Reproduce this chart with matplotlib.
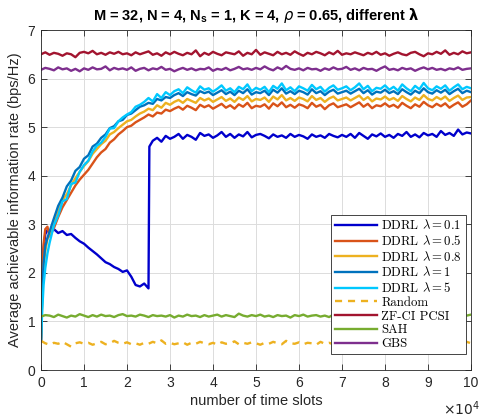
import numpy as np
import matplotlib
matplotlib.use("Agg")
import matplotlib.pyplot as plt
from matplotlib.font_manager import FontProperties

# ---------------- data (x in units of 1e4 time slots) ----------------
x_ddrl = np.concatenate([[0.0, 0.03, 0.06, 0.1, 0.15], np.round(np.arange(2, 101) * 0.1, 2)])
x_flat = np.round(np.arange(0, 101) * 0.1, 2)
x_jump = 2.52  # time at which DDRL lambda=0.1 jumps

ddrl_l5 = [0.62, 1.25, 1.75, 2.1, 2.4,
           2.62, 2.98, 3.18, 3.47, 3.52, 3.83, 3.86, 4.08, 4.22,
           4.31, 4.5, 4.62, 4.68, 4.8, 4.97, 4.98, 5.12, 5.2, 5.26,
           5.31, 5.42, 5.46, 5.52, 5.6, 5.53, 5.68, 5.6, 5.72, 5.66,
           5.74, 5.78, 5.7, 5.82, 5.76, 5.71, 5.84, 5.77, 5.8, 5.73,
           5.79, 5.86, 5.75, 5.8, 5.72, 5.83, 5.78, 5.88, 5.74, 5.81,
           5.77, 5.83, 5.72, 5.85, 5.79, 5.9, 5.76, 5.82, 5.74, 5.84,
           5.8, 5.75, 5.87, 5.78, 5.83, 5.73, 5.81, 5.86, 5.77, 5.8,
           5.84, 5.76, 5.82, 5.9, 5.78, 5.85, 5.74, 5.81, 5.79, 5.86,
           5.77, 5.83, 5.75, 5.88, 5.8, 5.74, 5.85, 5.78, 5.91, 5.8,
           5.76, 5.84, 5.79, 5.86, 5.75, 5.82, 5.88, 5.78, 5.83, 5.8]

ddrl_l1 = [0.6, 1.6, 2.2, 2.55, 2.72,
           2.85, 3.12, 3.38, 3.55, 3.78, 3.9, 4.1, 4.18, 4.35,
           4.42, 4.6, 4.66, 4.78, 4.85, 4.98, 5.02, 5.12, 5.15, 5.25,
           5.28, 5.35, 5.42, 5.45, 5.5, 5.48, 5.58, 5.55, 5.62, 5.6,
           5.66, 5.7, 5.64, 5.72, 5.68, 5.65, 5.74, 5.7, 5.73, 5.66,
           5.71, 5.76, 5.68, 5.73, 5.66, 5.75, 5.7, 5.78, 5.67, 5.72,
           5.7, 5.75, 5.66, 5.77, 5.71, 5.8, 5.69, 5.74, 5.68, 5.75,
           5.72, 5.67, 5.78, 5.7, 5.74, 5.66, 5.73, 5.77, 5.69, 5.72,
           5.75, 5.69, 5.74, 5.79, 5.7, 5.76, 5.67, 5.73, 5.71, 5.77,
           5.7, 5.74, 5.68, 5.78, 5.72, 5.67, 5.75, 5.7, 5.8, 5.72,
           5.69, 5.76, 5.71, 5.77, 5.68, 5.74, 5.79, 5.7, 5.75, 5.72]

ddrl_l08 = [0.6, 1.5, 2.1, 2.45, 2.7,
            2.8, 3.0, 3.25, 3.5, 3.62, 3.8, 3.95, 4.08, 4.2,
            4.3, 4.45, 4.55, 4.65, 4.72, 4.85, 4.9, 4.98, 5.05, 5.12,
            5.15, 5.22, 5.28, 5.32, 5.38, 5.35, 5.45, 5.4, 5.5, 5.46,
            5.52, 5.56, 5.5, 5.58, 5.54, 5.5, 5.6, 5.55, 5.59, 5.52,
            5.57, 5.62, 5.54, 5.59, 5.52, 5.61, 5.56, 5.64, 5.53, 5.58,
            5.56, 5.61, 5.52, 5.63, 5.57, 5.66, 5.55, 5.6, 5.54, 5.61,
            5.58, 5.53, 5.64, 5.56, 5.6, 5.52, 5.59, 5.63, 5.55, 5.58,
            5.61, 5.55, 5.6, 5.65, 5.56, 5.62, 5.53, 5.59, 5.57, 5.63,
            5.56, 5.6, 5.54, 5.64, 5.58, 5.53, 5.61, 5.56, 5.66, 5.58,
            5.55, 5.62, 5.57, 5.63, 5.54, 5.6, 5.65, 5.56, 5.61, 5.62]

ddrl_l05 = [0.6, 1.9, 2.6, 2.9, 2.95,
            2.75, 2.92, 3.15, 3.35, 3.5, 3.65, 3.8, 3.92, 4.02,
            4.12, 4.25, 4.38, 4.48, 4.55, 4.68, 4.75, 4.85, 4.92, 5.0,
            5.03, 5.1, 5.15, 5.2, 5.26, 5.22, 5.3, 5.28, 5.36, 5.33,
            5.38, 5.42, 5.36, 5.44, 5.4, 5.35, 5.46, 5.41, 5.45, 5.38,
            5.43, 5.48, 5.4, 5.45, 5.38, 5.47, 5.42, 5.5, 5.39, 5.44,
            5.42, 5.47, 5.38, 5.49, 5.43, 5.51, 5.41, 5.46, 5.4, 5.47,
            5.44, 5.39, 5.5, 5.42, 5.46, 5.37, 5.45, 5.49, 5.41, 5.44,
            5.47, 5.41, 5.46, 5.51, 5.42, 5.48, 5.39, 5.45, 5.43, 5.49,
            5.42, 5.46, 5.4, 5.5, 5.44, 5.39, 5.47, 5.42, 5.52, 5.45,
            5.41, 5.48, 5.43, 5.49, 5.4, 5.46, 5.51, 5.42, 5.47, 5.55]

# lambda = 0.1: values up to x=2.5, the jump point, then values from x=2.6
ddrl_l01 = [0.6, 1.8, 2.5, 2.8, 2.88,
            2.85, 2.9, 2.82, 2.86, 2.78, 2.8, 2.72, 2.65, 2.6,
            2.52, 2.45, 2.38, 2.3, 2.22, 2.18, 2.12, 2.08, 2.02, 2.05,
            1.92, 1.75, 1.72, 1.78, 1.68,
            4.6,
            4.72, 4.78, 4.7, 4.82, 4.76,
            4.8, 4.86, 4.76, 4.84, 4.8, 4.74, 4.88, 4.82, 4.85, 4.78,
            4.83, 4.9, 4.8, 4.86, 4.78, 4.85, 4.81, 4.9, 4.79, 4.84,
            4.86, 4.82, 4.77, 4.85, 4.8, 4.83, 4.78, 4.86, 4.8, 4.84,
            4.81, 4.76, 4.85, 4.8, 4.83, 4.78, 4.86, 4.82, 4.79, 4.84,
            4.8, 4.86, 4.78, 4.88, 4.82, 4.76, 4.85, 4.81, 4.87, 4.8,
            4.84, 4.78, 4.86, 4.82, 4.9, 4.8, 4.85, 4.79, 4.88, 4.83,
            4.86, 4.8, 4.92, 4.84, 4.88, 4.82, 4.95, 4.85, 4.89, 4.87]

zfci_pcsi = [6.5, 6.54, 6.49, 6.53, 6.51, 6.47, 6.52, 6.5, 6.44, 6.53,
             6.55, 6.52, 6.57, 6.5, 6.53, 6.49, 6.54, 6.51, 6.55, 6.5,
             6.52, 6.48, 6.54, 6.5, 6.53, 6.56, 6.49, 6.52, 6.47, 6.54,
             6.5, 6.55, 6.51, 6.48, 6.53, 6.5, 6.58, 6.46, 6.53, 6.49,
             6.55, 6.51, 6.48, 6.54, 6.52, 6.5, 6.56, 6.47, 6.53, 6.5,
             6.59, 6.49, 6.54, 6.51, 6.48, 6.55, 6.5, 6.53, 6.49, 6.56,
             6.51, 6.47, 6.53, 6.5, 6.55, 6.52, 6.48, 6.54, 6.5, 6.57,
             6.49, 6.52, 6.5, 6.54, 6.51, 6.48, 6.53, 6.5, 6.55, 6.49,
             6.52, 6.47, 6.51, 6.54, 6.5, 6.48, 6.53, 6.55, 6.5, 6.46,
             6.52, 6.5, 6.55, 6.51, 6.58, 6.49, 6.53, 6.5, 6.56, 6.52, 6.54]

gbs = [6.18, 6.22, 6.2, 6.17, 6.23, 6.19, 6.21, 6.16, 6.2, 6.15,
       6.21, 6.18, 6.23, 6.19, 6.2, 6.25, 6.17, 6.22, 6.19, 6.21,
       6.18, 6.23, 6.16, 6.2, 6.22, 6.17, 6.21, 6.19, 6.24, 6.18,
       6.2, 6.15, 6.19, 6.22, 6.18, 6.21, 6.17, 6.2, 6.19, 6.23,
       6.16, 6.2, 6.18, 6.22, 6.17, 6.2, 6.24, 6.19, 6.21, 6.18,
       6.22, 6.19, 6.25, 6.2, 6.17, 6.23, 6.19, 6.26, 6.2, 6.18,
       6.21, 6.17, 6.22, 6.19, 6.2, 6.16, 6.21, 6.18, 6.23, 6.19,
       6.2, 6.24, 6.18, 6.21, 6.17, 6.22, 6.19, 6.2, 6.16, 6.21,
       6.25, 6.18, 6.2, 6.17, 6.22, 6.19, 6.21, 6.16, 6.2, 6.23,
       6.19, 6.22, 6.18, 6.2, 6.17, 6.21, 6.19, 6.23, 6.18, 6.2, 6.21]

sah = [1.1, 1.13, 1.12, 1.09, 1.14, 1.11, 1.08, 1.12, 1.1, 1.15,
       1.12, 1.09, 1.13, 1.1, 1.14, 1.11, 1.12, 1.09, 1.13, 1.15,
       1.11, 1.12, 1.1, 1.14, 1.12, 1.09, 1.13, 1.11, 1.12, 1.1,
       1.13, 1.08, 1.12, 1.1, 1.14, 1.11, 1.12, 1.09, 1.13, 1.1,
       1.12, 1.14, 1.1, 1.13, 1.11, 1.09, 1.16, 1.12, 1.1, 1.13,
       1.11, 1.14, 1.1, 1.12, 1.09, 1.13, 1.11, 1.12, 1.08, 1.13,
       1.11, 1.14, 1.1, 1.12, 1.13, 1.1, 1.12, 1.09, 1.14, 1.11,
       1.12, 1.1, 1.13, 1.11, 1.12, 1.09, 1.13, 1.1, 1.12, 1.14,
       1.11, 1.12, 1.1, 1.13, 1.11, 1.12, 1.09, 1.13, 1.11, 1.12,
       1.1, 1.14, 1.11, 1.12, 1.1, 1.13, 1.11, 1.09, 1.13, 1.12, 1.14]

random_sel = [0.6, 0.55, 0.52, 0.56, 0.54, 0.58, 0.53, 0.48, 0.55, 0.57,
              0.54, 0.56, 0.52, 0.55, 0.58, 0.53, 0.55, 0.6, 0.56, 0.54,
              0.57, 0.53, 0.55, 0.52, 0.56, 0.54, 0.58, 0.55, 0.61, 0.54,
              0.56, 0.53, 0.55, 0.57, 0.52, 0.56, 0.54, 0.58, 0.55, 0.53,
              0.56, 0.52, 0.57, 0.54, 0.55, 0.59, 0.53, 0.56, 0.54, 0.57,
              0.55, 0.52, 0.56, 0.54, 0.58, 0.55, 0.53, 0.6, 0.55, 0.54,
              0.57, 0.53, 0.56, 0.55, 0.52, 0.58, 0.54, 0.56, 0.53, 0.57,
              0.55, 0.54, 0.58, 0.52, 0.56, 0.55, 0.53, 0.57, 0.54, 0.56,
              0.55, 0.53, 0.57, 0.54, 0.56, 0.52, 0.55, 0.58, 0.54, 0.56,
              0.53, 0.57, 0.55, 0.54, 0.56, 0.52, 0.57, 0.55, 0.53, 0.58, 0.55]

labels = [r'DDRL $\lambda = 0.1$', r'DDRL $\lambda = 0.5$', r'DDRL $\lambda = 0.8$',
          r'DDRL $\lambda = 1$', r'DDRL $\lambda = 5$', 'Random', 'ZF-CI PCSI', 'SAH', 'GBS']
colors = ['#0000CC', '#D95319', '#EDB120', '#0072BD', '#00C8FF',
          '#EDB120', '#A2142F', '#77AC30', '#7E2F8E']

xticks = list(range(0, 11))
yticks = list(range(0, 8))

# ---------------- plot ----------------
plt.rcParams['font.family'] = ['Liberation Sans', 'DejaVu Sans']
fig = plt.figure(figsize=(4.82, 4.2), dpi=100)
ax = fig.add_axes([41/482, 1 - 370/420, 430/482, 340/420])

n_pre = int(np.sum(x_ddrl <= 2.5 + 1e-9))
x_l01 = np.concatenate([x_ddrl[:n_pre], [x_jump], x_ddrl[n_pre:]])

lw = 1.7
series = [(x_l01, ddrl_l01), (x_ddrl, ddrl_l05), (x_ddrl, ddrl_l08),
          (x_ddrl, ddrl_l1), (x_ddrl, ddrl_l5)]
for (xx, yy), c, lab in zip(series, colors[:5], labels[:5]):
    ax.plot(xx, yy, color=c, lw=lw, label=lab)
ax.plot(x_flat, random_sel, color=colors[5], lw=lw, ls=(0, (3, 2.5)), label=labels[5])
ax.plot(x_flat, zfci_pcsi, color=colors[6], lw=lw, label=labels[6])
ax.plot(x_flat, sah, color=colors[7], lw=lw, label=labels[7])
ax.plot(x_flat, gbs, color=colors[8], lw=lw, label=labels[8])

ax.set_xlim(0, 10)
ax.set_ylim(0, 7)
ax.set_xticks(xticks)
ax.set_yticks(yticks)
ax.grid(True, color='#dcdcdc', lw=0.7)
ax.set_axisbelow(True)
ax.tick_params(direction='in', top=True, right=True, length=4, width=0.6,
               labelsize=10, colors='#262626', pad=4)
for s in ax.spines.values():
    s.set_color('#262626')
    s.set_linewidth(0.6)

ax.set_xlabel('number of time slots', fontsize=10.5, color='#262626', labelpad=3)
ax.set_ylabel('Average achievable information rate (bps/Hz)', fontsize=10.5,
              color='#262626', labelpad=4)
ax.text(1.02, -0.085, r'$\times10^{4}$', transform=ax.transAxes, ha='right', va='top',
        fontsize=10, color='#262626')
ax.set_title(r'M = 32, N = 4, N$_\mathregular{s}$ = 1, K = 4, $\rho$ = 0.65, different $\boldsymbol{\lambda}$',
             fontsize=10.5, fontweight='bold', color='black', pad=7)

leg_font = FontProperties(family='cmr10', size=9.2, math_fontfamily='cm')
leg = ax.legend(loc='lower right', bbox_to_anchor=(0.988, 0.047), borderaxespad=0,
                prop=leg_font, frameon=True, fancybox=False, framealpha=1,
                edgecolor='#262626', handlelength=3.3, labelspacing=0.13,
                borderpad=0.3, handletextpad=0.3)
leg.get_frame().set_linewidth(0.6)

fig.savefig('out.png', dpi=100)
